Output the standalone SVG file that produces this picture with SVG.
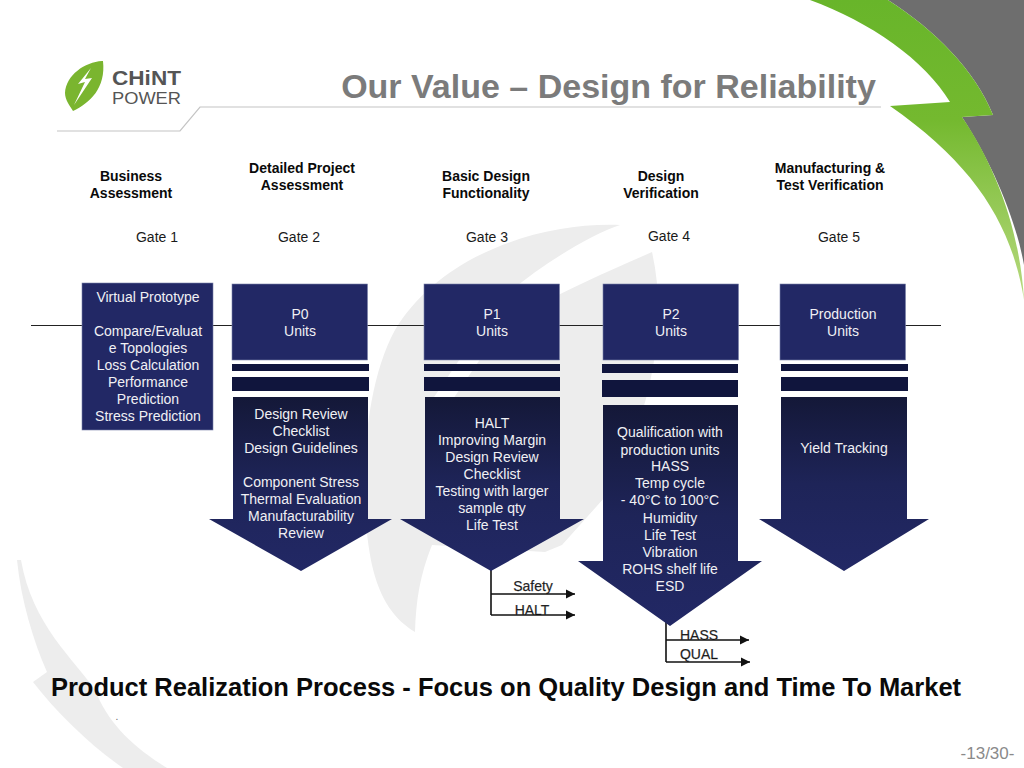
<svg xmlns="http://www.w3.org/2000/svg" width="1024" height="768" viewBox="0 0 1024 768">
<style>
text{font-family:"Liberation Sans",Arial,sans-serif;text-anchor:middle}
.w{font-size:14px;fill:#f0f0f4}
.h{font-size:14px;font-weight:bold;fill:#0a0a0a}
.g{font-size:14px;fill:#1a1a1a}
.l{font-size:14px;fill:#111;stroke:#555;stroke-width:.25}
.box{fill:#222865;stroke:#7a80a8;stroke-width:.6}
.bar{fill:#10153d}
.conn{fill:none;stroke:#111;stroke-width:1.6}
.wm{fill:#ededed}
</style>
<defs>
<linearGradient id="arr" x1="0" y1="0" x2="0" y2="1"><stop offset="0" stop-color="#141838"/><stop offset=".5" stop-color="#1e2458"/><stop offset="1" stop-color="#222865"/></linearGradient>
<linearGradient id="gr" gradientUnits="userSpaceOnUse" x1="0" y1="0" x2="0" y2="300"><stop offset="0" stop-color="#68b52a"/><stop offset=".4" stop-color="#74b92f"/><stop offset="1" stop-color="#b8da80"/></linearGradient>
<marker id="ah" markerUnits="userSpaceOnUse" markerWidth="10" markerHeight="10" refX="9" refY="5" orient="auto"><path d="M0 .5L9 5L0 9.500z" fill="#111"/></marker>
</defs>
<rect width="1024" height="768" fill="#fff"/>
<g id="background">
<path class="wm" d="M620 225C540 222 440 255 395 330C362 390 358 500 372 565C380 600 395 620 415 632C416 600 420 575 432 545L432 400L500 300C540 265 590 235 620 225Z"/>
<path class="wm" d="M652 252C600 275 530 305 500 330L432 430L432 545L545 552L562 545L605 497C640 440 672 340 652 252Z"/>
<path class="wm" d="M17 560C21 600 33 640 47 672L33 682C58 714 90 745 123 768H167C130 745 108 722 95 690C75 660 32 625 21 560Z"/>
<path d="M888 0H1024V265C1015 215 990 160 962 117L993 115C975 70 935 30 888 0Z" fill="#6e6e6e"/>
<path d="M810 0H888C935 30 975 70 993 115L962 117C995 165 1020 230 1024 300C1012 225 975 165 890 106L950 102C925 60 870 22 810 0Z" fill="url(#gr)"/>
</g>
<g id="logo">
<path d="M102 61C85 62 66 75 65 93C65 100 70 106 73 111C90 103 106 88 103 61Z" fill="#7ab52f"/>
<path d="M91 68L78 84L85 82L74 105L92 78L85 79Z" fill="#fff"/>
<text x="146.500" y="84.500" style="font-size:21px;font-weight:bold;fill:#555" textLength="69" lengthAdjust="spacingAndGlyphs">CHiNT</text>
<text x="146.500" y="103.500" style="font-size:16px;fill:#555" textLength="69" lengthAdjust="spacingAndGlyphs">POWER</text>
<path d="M57 131H180L200 107H881" fill="none" stroke="#c4c4c4" stroke-width="1.2"/>
</g>
<text id="title" x="608.500" y="98" style="font-size:34px;font-weight:bold;fill:#7b7b7b">Our Value – Design for Reliability</text>
<g id="connectors">
<path d="M31 325.500H941" fill="none" stroke="#222" stroke-width="1"/>
<path class="conn" d="M491 570V615M491 594H575" marker-end="url(#ah)"/>
<path class="conn" d="M491 615H575" marker-end="url(#ah)"/>
<path class="conn" d="M666 622V662M666 640H749" marker-end="url(#ah)"/>
<path class="conn" d="M666 662H750" marker-end="url(#ah)"/>
</g>
<g id="header-1"><text class="h" x="131" y="181">Business</text><text class="h" x="131" y="198">Assessment</text><text class="g" x="157" y="242">Gate 1</text></g>
<g id="header-2"><text class="h" x="302" y="172.500">Detailed Project</text><text class="h" x="302" y="189.500">Assessment</text><text class="g" x="299" y="242">Gate 2</text></g>
<g id="header-3"><text class="h" x="486" y="181">Basic Design</text><text class="h" x="486" y="198">Functionality</text><text class="g" x="487" y="242">Gate 3</text></g>
<g id="header-4"><text class="h" x="661" y="181">Design</text><text class="h" x="661" y="198">Verification</text><text class="g" x="669" y="241">Gate 4</text></g>
<g id="header-5"><text class="h" x="830" y="172.500">Manufacturing &amp;</text><text class="h" x="830" y="189.500">Test Verification</text><text class="g" x="839" y="242">Gate 5</text></g>
<g id="virtual-prototype">
<rect class="box" x="82" y="283" width="131" height="147"/>
<text class="w" x="148" y="302">Virtual Prototype</text>
<text class="w" x="148" y="336">Compare/Evaluat</text>
<text class="w" x="148" y="353">e Topologies</text>
<text class="w" x="148" y="370">Loss Calculation</text>
<text class="w" x="148" y="387">Performance</text>
<text class="w" x="148" y="404">Prediction</text>
<text class="w" x="148" y="421">Stress Prediction</text>
</g>
<g id="p0">
<rect class="box" x="232" y="284" width="135.500" height="76"/>
<text class="w" x="300" y="319">P0</text><text class="w" x="300" y="336">Units</text>
<rect class="bar" x="232" y="364" width="137" height="7"/><rect class="bar" x="232" y="377" width="137" height="14"/>
<path d="M233 397H368V519H392L301 571L209 519H233Z" fill="url(#arr)"/>
<text class="w" x="301" y="419">Design Review</text><text class="w" x="301" y="436">Checklist</text><text class="w" x="301" y="453">Design Guidelines</text>
<text class="w" x="301" y="487">Component Stress</text><text class="w" x="301" y="504">Thermal Evaluation</text><text class="w" x="301" y="521">Manufacturability</text><text class="w" x="301" y="538">Review</text>
</g>
<g id="p1">
<rect class="box" x="424" y="284" width="135.500" height="76"/>
<text class="w" x="492" y="319">P1</text><text class="w" x="492" y="336">Units</text>
<rect class="bar" x="424" y="364" width="136" height="7"/><rect class="bar" x="424" y="377" width="136" height="14"/>
<path d="M425 397H560V519H584L491 571L400 519H425Z" fill="url(#arr)"/>
<text class="w" x="492" y="428">HALT</text><text class="w" x="492" y="445">Improving Margin</text><text class="w" x="492" y="462">Design Review</text><text class="w" x="492" y="479">Checklist</text><text class="w" x="492" y="496">Testing with larger</text><text class="w" x="492" y="513">sample qty</text><text class="w" x="492" y="530">Life Test</text>
</g>
<g id="p2">
<rect class="box" x="603" y="284" width="135.500" height="76"/>
<text class="w" x="671" y="319">P2</text><text class="w" x="671" y="336">Units</text>
<rect class="bar" x="602" y="364" width="136" height="9"/><rect class="bar" x="602" y="380" width="136" height="17"/>
<path d="M603 405H738V561H762L670 626L578 561H603Z" fill="url(#arr)"/>
<text class="w" x="670" y="437">Qualification with</text><text class="w" x="670" y="455">production units</text><text class="w" x="670" y="471">HASS</text><text class="w" x="670" y="488">Temp cycle</text><text class="w" x="670" y="505">- 40°C to 100°C</text><text class="w" x="670" y="523">Humidity</text><text class="w" x="670" y="540">Life Test</text><text class="w" x="670" y="557">Vibration</text><text class="w" x="670" y="574">ROHS shelf life</text><text class="w" x="670" y="591">ESD</text>
</g>
<g id="production">
<rect class="box" x="780" y="284" width="125.500" height="76"/>
<text class="w" x="843" y="319">Production</text><text class="w" x="843" y="336">Units</text>
<rect class="bar" x="781" y="364" width="127" height="7"/><rect class="bar" x="781" y="377" width="127" height="14"/>
<path d="M781 397H907V519H929L844 571L759 519H781Z" fill="url(#arr)"/>
<text class="w" x="844" y="453">Yield Tracking</text>
</g>
<g id="branch-labels">
<text class="l" x="533" y="591">Safety</text><text class="l" x="532" y="615">HALT</text><text class="l" x="699" y="640">HASS</text><text class="l" x="699" y="659">QUAL</text>
</g>
<text id="caption" x="506" y="696" style="font-size:25.500px;font-weight:bold;fill:#0a0a0a">Product Realization Process - Focus on Quality Design and Time To Market</text>
<text id="dot" x="117" y="720" style="font-size:10px;fill:#666">.</text>
<text id="page" x="987.500" y="759" style="font-size:17px;fill:#8a8a8a">-13/30-</text>
</svg>
